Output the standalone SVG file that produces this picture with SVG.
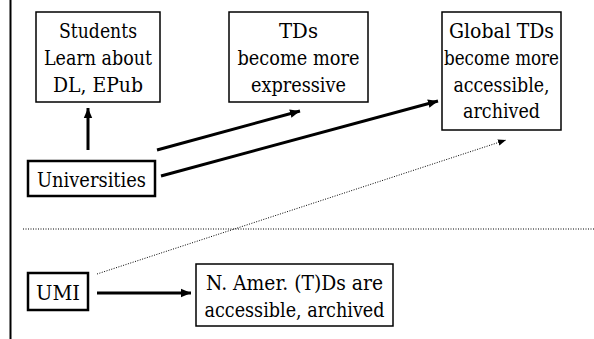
<svg xmlns="http://www.w3.org/2000/svg" width="594" height="339" viewBox="0 0 594 339">
<style>
.box{fill:#fff;stroke:#000;stroke-width:1.5}
.tbox{fill:#fff;stroke:#000;stroke-width:2.5}
.arr{stroke:#000;stroke-width:3;fill:none;marker-end:url(#ah)}
.dot{stroke:#000;stroke-width:1;fill:none;stroke-dasharray:1 1.5}
.lbl{font-family:"DejaVu Serif",serif;font-size:19.5px;text-anchor:middle;fill:#000}
</style>
<defs>
<marker id="ah" markerUnits="userSpaceOnUse" markerWidth="12" markerHeight="10" refX="10" refY="5" orient="auto"><path d="M0,0.8 L10,5 L0,9.2 z" fill="#000"/></marker>
<marker id="ahs" markerUnits="userSpaceOnUse" markerWidth="9" markerHeight="8" refX="8" refY="4" orient="auto"><path d="M0,0.8 L8,4 L0,7.2 z" fill="#000"/></marker>
</defs>
<line x1="10.5" y1="0" x2="10.5" y2="339" stroke="#000" stroke-width="2"/>
<line class="dot" x1="23" y1="229" x2="594" y2="229"/>
<g class="lbl">
<g id="students"><rect class="box" x="36" y="12" width="124" height="90"/><text x="98" y="38" textLength="78" lengthAdjust="spacingAndGlyphs">Students</text><text x="98" y="65" textLength="108" lengthAdjust="spacingAndGlyphs">Learn about</text><text x="98" y="92" textLength="90" lengthAdjust="spacingAndGlyphs">DL, EPub</text></g>
<g id="tds"><rect class="box" x="229" y="12" width="139" height="90"/><text x="298.5" y="38" textLength="39" lengthAdjust="spacingAndGlyphs">TDs</text><text x="298.5" y="65" textLength="122" lengthAdjust="spacingAndGlyphs">become more</text><text x="298.5" y="92" textLength="95" lengthAdjust="spacingAndGlyphs">expressive</text></g>
<g id="global"><rect class="box" x="442" y="12" width="119" height="118"/><text x="501.5" y="38" textLength="105" lengthAdjust="spacingAndGlyphs">Global TDs</text><text x="501.5" y="65" textLength="115" lengthAdjust="spacingAndGlyphs">become more</text><text x="501.5" y="92" textLength="96" lengthAdjust="spacingAndGlyphs">accessible,</text><text x="501.5" y="118" textLength="77" lengthAdjust="spacingAndGlyphs">archived</text></g>
<g id="universities"><rect class="tbox" x="28" y="161" width="127" height="35"/><text x="91.5" y="187" textLength="109" lengthAdjust="spacingAndGlyphs">Universities</text></g>
<g id="umi"><rect class="tbox" x="28" y="273" width="60" height="37"/><text x="58" y="300" textLength="44" lengthAdjust="spacingAndGlyphs">UMI</text></g>
<g id="namer"><rect class="box" x="196" y="264" width="197" height="62"/><text x="294.5" y="290" textLength="177" lengthAdjust="spacingAndGlyphs">N. Amer. (T)Ds are</text><text x="294.5" y="317" textLength="180" lengthAdjust="spacingAndGlyphs">accessible, archived</text></g>
</g>
<g id="connectors">
<line class="arr" x1="88" y1="150" x2="88" y2="108"/>
<line class="arr" x1="157" y1="150" x2="300" y2="111"/>
<line class="arr" x1="161" y1="176" x2="438" y2="101" stroke-width="3.5"/>
<line class="arr" x1="97" y1="293" x2="191" y2="293"/>
<line class="dot" x1="97" y1="274" x2="506" y2="140" marker-end="url(#ahs)"/>
</g>
</svg>
